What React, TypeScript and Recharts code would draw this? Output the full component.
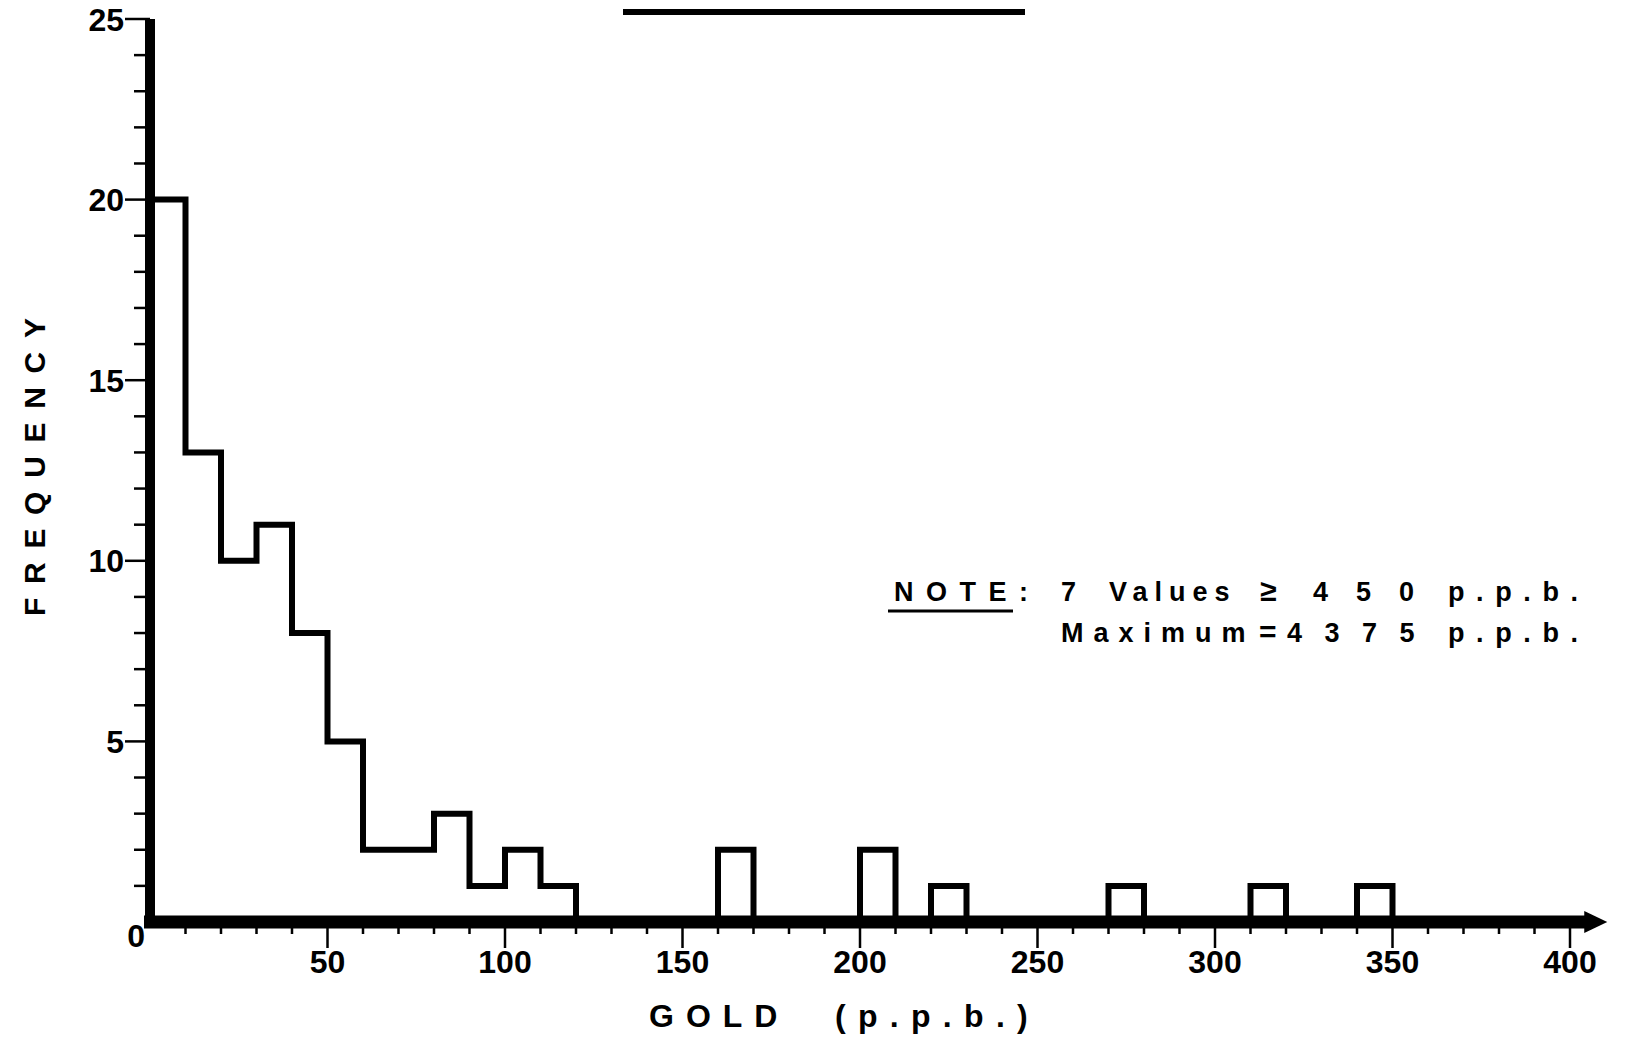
import React from 'react';
import { LineChart, Line, XAxis, YAxis, ReferenceLine } from 'recharts';

// gold assay histogram, 10 p.p.b. bins
const binStart = [
  0, 10, 20, 30, 40, 50, 60, 70, 80, 90, 100, 110, 120, 130, 140, 150, 160, 170,
  180, 190, 200, 210, 220, 230, 240, 250, 260, 270, 280, 290, 300, 310, 320, 330, 340,
];
const counts = [
  20, 13, 10, 11, 8, 5, 2, 2, 3, 1, 2, 1, 0, 0, 0, 0, 2, 0,
  0, 0, 2, 0, 1, 0, 0, 0, 0, 1, 0, 0, 0, 1, 0, 0, 1,
];
const lastEdge = 350;

const xTicks = [
  10, 20, 30, 40, 50, 60, 70, 80, 90, 100, 110, 120, 130, 140, 150, 160, 170, 180, 190, 200,
  210, 220, 230, 240, 250, 260, 270, 280, 290, 300, 310, 320, 330, 340, 350, 360, 370, 380, 390, 400,
];
const yTicks = [0, 1, 2, 3, 4, 5, 6, 7, 8, 9, 10, 11, 12, 13, 14, 15, 16, 17, 18, 19, 20, 21, 22, 23, 24, 25];

const data = [
  ...binStart.map((x, i) => ({ x, count: counts[i] })),
  { x: lastEdge, count: 0 },
];

const FONT = '"Liberation Sans", Arial, Helvetica, sans-serif';

const YTick = (props: any) => {
  const { x, y, payload } = props;
  const v = payload.value;
  if (v === 0) {
    return (
      <text x={x - 5} y={y + 25} textAnchor="end" fontSize={32} fontWeight="bold" fontFamily={FONT} fill="#000">
        0
      </text>
    );
  }
  const major = v % 5 === 0;
  return (
    <g>
      <line x1={x - (major ? 25 : 16)} x2={x} y1={y} y2={y} stroke="#000" strokeWidth={2.5} />
      {major && (
        <text x={x - 26} y={y + 11.5} textAnchor="end" fontSize={32} fontWeight="bold" fontFamily={FONT} fill="#000">
          {v}
        </text>
      )}
    </g>
  );
};

const XTick = (props: any) => {
  const { x, y, payload } = props;
  const v = payload.value;
  const major = v % 50 === 0;
  return (
    <g>
      <line x1={x} x2={x} y1={y} y2={y + (major ? 26 : 12)} stroke="#000" strokeWidth={2.5} />
      {major && (
        <text x={x} y={y + 51} textAnchor="middle" fontSize={32} fontWeight="bold" fontFamily={FONT} fill="#000">
          {v}
        </text>
      )}
    </g>
  );
};

const ArrowAxis = (p: any) => {
  const { x1, y1, x2 } = p;
  if (x1 == null) return null;
  return (
    <g>
      <line x1={x1 - 6} y1={y1} x2={x2 - 20} y2={y1} stroke="#000" strokeWidth={13} />
      <polygon points={`${x2 - 23},${y1 - 11} ${x2},${y1} ${x2 - 23},${y1 + 11}`} fill="#000" />
    </g>
  );
};

const textStyle = { fontFamily: FONT, fontWeight: 'bold' as const, fill: '#000' };

export default function App() {
  return (
    <div style={{ position: 'absolute', left: 0, top: 0, width: 1636, height: 1041, background: '#fff' }}>
      <LineChart width={1636} height={1041} data={data} margin={{ top: 19, right: 66, left: 90, bottom: 59 }}>
        <XAxis
          dataKey="x"
          type="number"
          domain={[0, 400]}
          ticks={xTicks}
          interval={0}
          axisLine={false}
          tickLine={false}
          tickSize={0}
          tickMargin={0}
          height={60}
          tick={<XTick />}
        />
        <YAxis
          type="number"
          domain={[0, 25]}
          ticks={yTicks}
          interval={0}
          axisLine={false}
          tickLine={false}
          tickSize={0}
          tickMargin={0}
          width={60}
          tick={<YTick />}
        />
        <Line
          type="stepAfter"
          dataKey="count"
          stroke="#000"
          strokeWidth={6}
          strokeLinejoin="miter"
          dot={false}
          activeDot={false}
          isAnimationActive={false}
        />
        <ReferenceLine
          segment={[{ x: 0, y: 0 }, { x: 0, y: 25 }]}
          stroke="#000"
          strokeWidth={10}
          ifOverflow="visible"
        />
        <ReferenceLine
          segment={[{ x: 0, y: 0 }, { x: 410.5, y: 0 }]}
          stroke="#000"
          ifOverflow="visible"
          shape={ArrowAxis}
        />
      </LineChart>
      <svg width={1636} height={1041} style={{ position: 'absolute', left: 0, top: 0, pointerEvents: 'none' }}>
        <line x1={623} x2={1025} y1={12} y2={12} stroke="#000" strokeWidth={6} />
        <text transform="translate(45, 616) rotate(-90)" fontSize={30} letterSpacing={13.7} style={textStyle}>
          FREQUENCY
        </text>
        <text x={649} y={1027} fontSize={32} letterSpacing={12} style={textStyle}>GOLD</text>
        <text x={835} y={1027} fontSize={32} letterSpacing={12.3} style={textStyle}>(p.p.b.)</text>

        <text x={894} y={601} fontSize={27} letterSpacing={12.5} style={textStyle}>NOTE:</text>
        <line x1={888} x2={1013} y1={611} y2={611} stroke="#000" strokeWidth={3} />
        <text x={1061} y={601} fontSize={27} style={textStyle}>7</text>
        <text x={1109} y={601} fontSize={27} letterSpacing={7} style={textStyle}>Values</text>
        <text x={1260} y={601} fontSize={30} style={textStyle}>≥</text>
        <text x={1313} y={601} fontSize={27} letterSpacing={28} style={textStyle}>450</text>
        <text x={1448} y={601} fontSize={27} letterSpacing={11.6} style={textStyle}>p.p.b.</text>

        <text x={1061} y={642} fontSize={27} letterSpacing={10} style={textStyle}>Maximum</text>
        <text x={1259} y={642} fontSize={30} style={textStyle}>=</text>
        <text x={1287} y={642} fontSize={27} letterSpacing={22.5} style={textStyle}>4375</text>
        <text x={1448} y={642} fontSize={27} letterSpacing={11.6} style={textStyle}>p.p.b.</text>
      </svg>
    </div>
  );
}
